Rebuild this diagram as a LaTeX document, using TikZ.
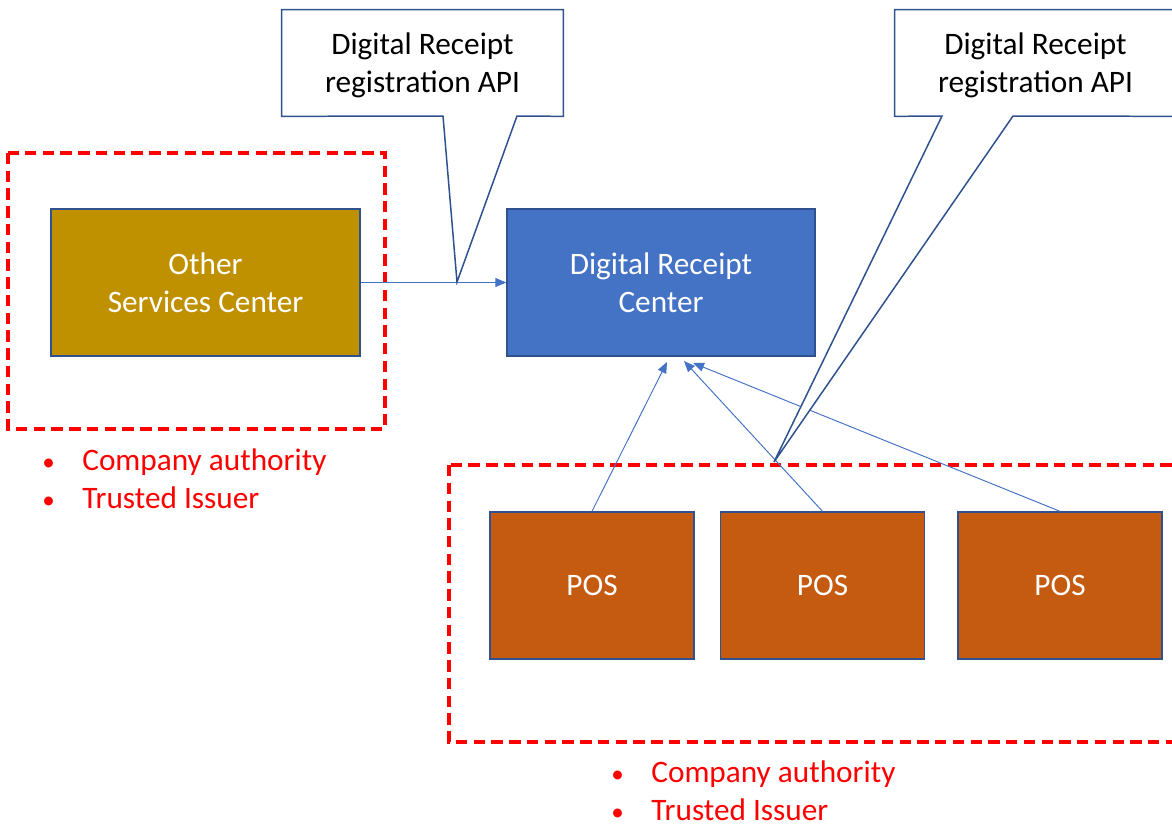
\documentclass[tikz,border=0pt]{standalone}
\usepackage{fontspec}
\setmainfont{Carlito}
\usetikzlibrary{arrows.meta,positioning}
\definecolor{edgeblue}{HTML}{2F528F}
\definecolor{linkblue}{HTML}{4472C4}
\definecolor{goldbox}{HTML}{BF9000}
\definecolor{posorange}{HTML}{C55A11}
\newcommand{\issuerdot}{\makebox[0.8cm][l]{\scalebox{0.8}{\textbullet}}}
\begin{document}
\begin{tikzpicture}[x=0.02cm,y=-0.02cm,
  lbl/.style={font=\fontsize{17.8}{21.5}\selectfont,align=center},
  box/.style={lbl,draw=edgeblue,line width=0.8pt,text=white,minimum height=2.94cm},
  posbox/.style={box,fill=posorange,minimum width=4.08cm},
  conn/.style={draw=linkblue,line width=0.55pt,-{Triangle[length=0.22cm,width=0.18cm]}},
  callout/.style={draw=edgeblue,line width=0.85pt,fill=white,line join=miter},
  trust/.style={draw=red,line width=2.3pt,dash pattern=on 6.5pt off 3.6pt},
  bullets/.style={lbl,align=left,text=red,anchor=west,inner sep=0pt}]
\useasboundingbox (0,0) rectangle (1172,825);
\clip (0,0) rectangle (1172,825);
% trust zones
\draw[trust] (8,153) rectangle (385,429);
\draw[trust] (449,465) rectangle (1190,742);
% centers and points of sale
\node[box,fill=goldbox,minimum width=6.18cm] (osc) at (205.5,282.5) {Other\\Services Center};
\node[box,fill=linkblue,minimum width=6.16cm] (drc) at (661,282.5) {Digital Receipt\\Center};
\node[posbox] (pos1) at (592,585.5) {POS};
\node[posbox] (pos2) at (822.5,585.5) {POS};
\node[posbox] (pos3) at (1060,585.5) {POS};
% registrations
\coordinate (in1) at (667,362);
\coordinate (in2) at (684,361);
\coordinate (in3) at (693,363);
\draw[conn] (osc) -- (drc);
\draw[conn] (pos1.north) -- (in1);
\draw[conn] (pos2.north) -- (in2);
\draw[conn] (pos3.north) -- (in3);
% API callouts
\node[lbl,minimum width=5.62cm,minimum height=2.12cm] (api1) at (422.5,63) {};
\coordinate (tip1) at (457,282);
\draw[callout] (api1.north west) -- (api1.north east) -- (api1.south east)
  -- (517,116) -- (tip1) -- (443,116) -- (api1.south west) -- cycle;
\node[lbl] at ([yshift=-0.05cm]api1) {Digital Receipt\\registration API};
\node[lbl,minimum width=5.62cm,minimum height=2.12cm] (api2) at (1035.5,63) {};
\coordinate (tip2) at (774,462);
\draw[callout] (api2.north west) -- (api2.north east) -- (api2.south east)
  -- (1013,116) -- (tip2) -- (942,116) -- (api2.south west) -- cycle;
\node[lbl] at ([yshift=-0.05cm]api2) {Digital Receipt\\registration API};
% issuer notes
\node[bullets] (note1) at (42,478.5) {\issuerdot Company authority\\\issuerdot Trusted Issuer};
\node[bullets] (note2) at (611,791) {\issuerdot Company authority\\\issuerdot Trusted Issuer};
\end{tikzpicture}
\end{document}
